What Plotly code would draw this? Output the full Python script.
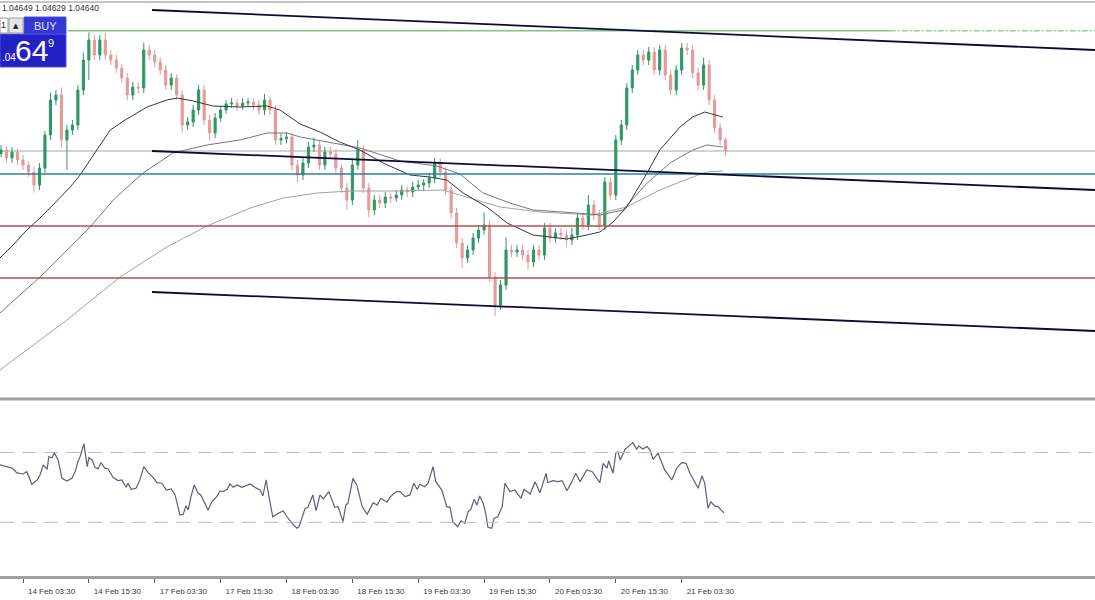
import plotly.graph_objects as go

# ---------------- data ----------------
# hourly bars, index 0..132 (tick every 12 bars)
closes = [
    1.04644, 1.04612, 1.04636, 1.04604, 1.04584, 1.04556, 1.04504, 1.04572, 1.04704, 1.04844,
    1.04864, 1.04684, 1.04724, 1.04744, 1.04884, 1.05004, 1.05084, 1.05024, 1.05084, 1.05024,
    1.05004, 1.04972, 1.04932, 1.04864, 1.04896, 1.04892, 1.05044, 1.05024, 1.04996, 1.04964,
    1.04904, 1.04932, 1.04864, 1.04744, 1.04756, 1.04804, 1.04884, 1.04764, 1.04712, 1.04772,
    1.04804, 1.04828, 1.04832, 1.04820, 1.04832, 1.04836, 1.04824, 1.04804, 1.04844, 1.04804,
    1.04684, 1.04690, 1.04696, 1.04584, 1.04544, 1.04592, 1.04656, 1.04664, 1.04584, 1.04636,
    1.04628, 1.04572, 1.04492, 1.04444, 1.04584, 1.04644, 1.04492, 1.04404, 1.04444, 1.04432,
    1.04456, 1.04452, 1.04464, 1.04484, 1.04476, 1.04496, 1.04504, 1.04512, 1.04532, 1.04592,
    1.04556, 1.04484, 1.04392, 1.04272, 1.04212, 1.04244, 1.04292, 1.04324, 1.04344, 1.04136,
    1.04024, 1.04104, 1.04244, 1.04236, 1.04244, 1.04224, 1.04196, 1.04244, 1.04224, 1.04332,
    1.04292, 1.04312, 1.04304, 1.04284, 1.04304, 1.04372, 1.04344, 1.04424, 1.04384, 1.04344,
    1.04516, 1.04464, 1.04684, 1.04744, 1.04892, 1.04964, 1.05024, 1.05004, 1.05036, 1.04964,
    1.05044, 1.04944, 1.04884, 1.04964, 1.05052, 1.05044, 1.04952, 1.04904, 1.04984, 1.04844,
    1.04732, 1.04684, 1.04640,
]
first_open = 1.04630
upper_wick_pips = [
    2, 1.5, 2, 1.5, 2, 1.5, 2, 2, 1.5, 3,
    2, 3, 2, 2, 2, 3, 3, 2, 2, 3,
    2, 2, 1.5, 2, 2, 2, 3, 2, 2, 2,
    2, 2, 1.5, 2, 2, 2, 2, 2, 2, 2,
    1.5, 1.5, 2, 1.5, 2, 1.5, 1.5, 2, 2.5, 1.5,
    2, 2, 2, 1.5, 2, 2, 2, 3, 2, 2,
    2, 2, 1.5, 2, 2, 4, 2, 2, 2, 2,
    2, 1.5, 2, 2, 1.5, 2, 2, 1.5, 2, 2,
    2, 2, 2, 2, 2, 2, 2, 2, 5, 2,
    2, 2, 5, 2, 2, 2, 2, 2, 2, 2,
    2, 2, 2, 2, 3, 2, 2, 4, 2, 2,
    2, 2, 2, 2, 2, 2, 2, 2, 2, 2,
    2, 2, 2, 2, 2, 2, 2, 2, 3, 2,
    2, 2, 1,
]
lower_wick_pips = [
    1.5, 2, 2, 2, 2, 2, 3, 2, 2, 2,
    2, 3, 12, 2, 2, 2, 8, 2, 2, 2,
    2, 2, 2, 2, 2, 2, 2, 2, 2, 2,
    2, 2, 2, 3, 2, 2, 2, 2, 3, 2,
    1.5, 1.5, 1.5, 2, 1.5, 1.5, 2, 2, 2, 2,
    2, 2, 2, 2, 3, 2, 2, 2, 2, 2,
    2, 2, 2, 4, 2, 2, 2, 3, 2, 2,
    2, 2, 1.5, 2, 2, 2, 1.5, 2, 2, 2,
    2, 2, 2, 2, 4, 2, 2, 2, 2, 2,
    4.5, 2, 2, 2, 2, 2, 3, 2, 2, 2,
    2, 2, 2, 3, 2, 2, 2, 2, 2, 2,
    2, 2, 2, 2, 2, 2, 2, 2, 2, 2,
    2, 2, 2, 2, 2, 2, 2, 2, 2, 2,
    2, 2, 2,
]

ma_fast_x = [-0.2, 2.2, 4.7, 7.1, 9.8, 12.6, 14.4, 16.2, 18.0, 19.9, 22.6, 26.6, 30.2, 32.1,
             35.0, 38.6, 43.5, 48.5, 50.8, 54.5, 58.1, 61.7, 65.4, 69.6, 74.5, 78.1, 81.2,
             84.2, 88.5, 92.2, 96.9, 103.1, 106.7, 109.1, 111.5, 114.0, 117.7, 120.0, 123.7,
             126.0, 128.2, 131.5]
ma_fast = [1.04212, 1.04264, 1.04324, 1.04372, 1.04432, 1.04496, 1.04544, 1.04604, 1.04664,
           1.04724, 1.04764, 1.04816, 1.04844, 1.04852, 1.04840, 1.04820, 1.04816, 1.04820,
           1.04804, 1.04748, 1.04716, 1.04676, 1.04644, 1.04592, 1.04544, 1.04536, 1.04524,
           1.04472, 1.04416, 1.04352, 1.04304, 1.04288, 1.04304, 1.04316, 1.04356, 1.04416,
           1.04552, 1.04644, 1.04736, 1.04776, 1.04796, 1.04776]
ma_mid_x = [-0.2, 3.5, 7.1, 11.7, 16.2, 20.8, 25.9, 31.3, 37.5, 43.5, 48.5, 52.1, 54.5, 60.5,
            65.4, 72.7, 79.4, 83.6, 87.8, 92.7, 96.9, 104.9, 109.1, 113.3, 117.7, 121.9,
            126.0, 128.6, 131.5]
ma_mid = [1.03992, 1.04064, 1.04136, 1.04236, 1.04336, 1.04452, 1.04552, 1.04632, 1.04664,
          1.04684, 1.04712, 1.04712, 1.04696, 1.04672, 1.04652, 1.04600, 1.04580, 1.04548,
          1.04472, 1.04432, 1.04404, 1.04392, 1.04384, 1.04404, 1.04512, 1.04592, 1.04644,
          1.04664, 1.04656]
ma_slow_x = [-0.2, 12.0, 21.7, 30.2, 37.5, 45.4, 51.4, 57.6, 63.6, 72.7, 80.5, 84.9, 90.9,
             98.2, 107.8, 114.0, 120.0, 126.0, 128.6, 131.5]
ma_slow = [1.03764, 1.03964, 1.04136, 1.04256, 1.04340, 1.04412, 1.04452, 1.04472, 1.04480,
           1.04480, 1.04484, 1.04456, 1.04416, 1.04396, 1.04384, 1.04416, 1.04484, 1.04536,
           1.04556, 1.04560]

rsi_x = [-0.2, 1.1, 2.0, 2.9, 4.0, 4.7, 5.6, 6.6, 7.1, 7.7,
         8.4, 8.7, 9.3, 9.7, 10.4, 11.1, 12.0, 12.9, 13.5, 14.0,
         14.4, 15.1, 15.7, 16.0, 16.6, 17.1, 17.7, 18.2, 18.9, 19.5,
         20.4, 21.3, 22.0, 22.8, 23.1, 23.7, 24.6, 25.3, 26.0, 26.8,
         27.7, 28.4, 29.3, 30.1, 31.0, 31.7, 32.6, 33.2, 33.7, 34.1,
         34.6, 35.2, 35.9, 36.4, 37.7, 38.4, 39.3, 39.9, 40.4, 41.2,
         41.7, 42.3, 43.0, 43.9, 44.8, 45.4, 46.3, 47.2, 47.7, 48.3,
         48.6, 49.5, 50.5, 51.4, 52.1, 53.0, 53.9, 54.3, 55.4, 55.9,
         56.8, 57.4, 58.1, 58.7, 59.7, 60.8, 61.4, 62.3, 62.8, 63.2,
         64.1, 64.8, 65.8, 66.7, 67.8, 68.5, 69.2, 70.3, 70.9, 71.4,
         72.1,
         72.7, 73.6, 74.5, 75.2, 75.8, 76.3, 77.2, 77.8, 78.7, 79.2,
         80.3, 81.2, 81.8, 82.3, 83.2, 83.8, 84.5, 85.1, 85.6, 86.2,
         86.7, 87.2, 87.8, 88.3, 88.7, 89.4, 89.8, 90.5, 91.3, 91.8,
         92.7, 93.6, 94.7, 95.3, 96.4, 97.3, 98.2, 99.3, 99.6, 100.5,
         101.5, 102.2, 103.1, 104.0, 104.7, 105.5, 106.7, 107.7, 109.1, 109.7,
         110.4, 110.7, 111.5, 112.0, 112.4, 112.8, 113.7, 114.4, 115.1, 115.8,
         116.2, 116.9, 117.7, 118.2, 118.8, 119.7, 120.9, 122.2, 123.1, 124.0,
         124.8, 125.5, 127.0, 127.7, 128.2, 128.8, 129.3, 130.0, 130.6, 131.3,
         131.7]
rsi_values = [62.9, 61.9, 61.1, 58.3, 57.7, 59.0, 51.8, 54.3, 57.1, 62.9,
              60.4, 67.6, 67.0, 69.9, 65.7, 55.2, 53.7, 55.2, 59.0, 64.8,
              67.6, 74.9, 61.9, 67.0, 65.7, 61.5, 60.6, 64.2, 61.0, 60.6,
              55.8, 53.9, 54.3, 50.1, 52.4, 48.9, 49.5, 54.3, 61.9, 58.5,
              55.8, 52.7, 52.4, 48.5, 49.1, 45.7, 34.2, 34.6, 39.5, 37.1,
              44.7, 51.4, 46.6, 45.7, 37.1, 41.8, 44.7, 48.0, 47.6, 48.9,
              52.0, 50.1, 51.4, 50.1, 51.4, 52.0, 49.9, 48.5, 45.1, 54.3,
              48.5, 33.2, 35.2, 36.5, 33.2, 29.5, 26.6, 27.5, 38.0, 38.6,
              45.7, 36.7, 45.7, 43.4, 47.6, 38.6, 39.0, 30.4, 39.9, 40.9,
              55.2, 51.4, 39.0, 34.6, 41.3, 39.9, 43.8, 41.5, 44.4, 46.1,
              47.6,
              47.6, 44.7, 45.7, 52.4, 48.9, 51.8, 50.4, 52.4, 61.9, 53.3,
              48.5, 39.0, 38.6, 30.4, 27.5, 30.9, 29.5, 36.1, 37.5, 43.2,
              39.9, 45.1, 41.3, 35.2, 27.2, 26.6, 32.3, 33.2, 39.0, 52.4,
              47.6, 48.5, 43.8, 48.9, 46.2, 53.3, 47.0, 58.1, 52.7, 53.9,
              53.3, 53.9, 48.1, 53.3, 58.1, 53.3, 60.0, 59.0, 52.7, 63.8,
              61.0, 65.3, 58.1, 69.6, 70.5, 65.7, 71.9, 73.8, 75.6, 71.9,
              73.8, 72.0, 73.4, 71.5, 66.1, 69.6, 60.0, 54.3, 61.0, 64.2,
              63.8, 58.1, 49.5, 56.6, 52.4, 38.0, 41.8, 39.4, 39.0, 36.7,
              35.5]
rsi_levels = [70, 30]

tick_bars = [4, 16, 28, 40, 52, 64, 76, 88, 100, 112, 124]
tick_labels = ["14 Feb 03:30", "14 Feb 15:30", "17 Feb 03:30", "17 Feb 15:30",
               "18 Feb 03:30", "18 Feb 15:30", "19 Feb 03:30", "19 Feb 15:30",
               "20 Feb 03:30", "20 Feb 15:30", "21 Feb 03:30"]

# trendlines: [x0, x1], [y0, y1]
trend_x = [27.5, 199.3]
trend_top = [1.05204, 1.05044]
trend_mid = [1.04640, 1.04484]
trend_bot = [1.04076, 1.03920]

# horizontal levels
green_level = 1.05121
green_start, green_dash_start = 12.2, 161.9
bid_level = 1.04640
blue_level = 1.04548
red_levels = [1.04340, 1.04132]

header_text = "1.04649 1.04629 1.04640"

# ---------------- derived ----------------
opens = [first_open] + closes[:-1]
highs = [max(o, c) + w * 0.0001 for o, c, w in zip(opens, closes, upper_wick_pips)]
lows = [min(o, c) - w * 0.0001 for o, c, w in zip(opens, closes, lower_wick_pips)]
bars = list(range(len(closes)))

W, H = 1095, 600
PLOT_H = 576  # plot area height (margin bottom 24)


def px(xp):
    return xp / W


def py(yp):
    return (PLOT_H - yp) / PLOT_H


fig = go.Figure()

fig.add_trace(go.Candlestick(
    x=bars, open=opens, high=highs, low=lows, close=closes,
    increasing=dict(line=dict(color="#2f9763", width=1), fillcolor="#2f9763"),
    decreasing=dict(line=dict(color="#e39a9a", width=1), fillcolor="#e39a9a"),
    whiskerwidth=0, xaxis="x", yaxis="y", showlegend=False, hoverinfo="skip",
))

for xs, ys, col in [(ma_slow_x, ma_slow, "#a2a2a2"),
                    (ma_mid_x, ma_mid, "#777777"),
                    (ma_fast_x, ma_fast, "#383838")]:
    fig.add_trace(go.Scatter(x=xs, y=ys, mode="lines", line=dict(color=col, width=1),
                             xaxis="x", yaxis="y", showlegend=False, hoverinfo="skip"))

fig.add_trace(go.Scatter(x=rsi_x, y=rsi_values, mode="lines",
                         line=dict(color="#5d5d80", width=1.2),
                         xaxis="x", yaxis="y2", showlegend=False, hoverinfo="skip"))

shapes = []
# horizontal levels (full width)
shapes.append(dict(type="line", xref="paper", yref="y", x0=0, x1=1, y0=bid_level, y1=bid_level,
                   line=dict(color="#a8a8a8", width=1), layer="below"))
shapes.append(dict(type="line", xref="paper", yref="y", x0=0, x1=1, y0=blue_level, y1=blue_level,
                   line=dict(color="#2c7fa3", width=1.5)))
for lv in red_levels:
    shapes.append(dict(type="line", xref="paper", yref="y", x0=0, x1=1, y0=lv, y1=lv,
                       line=dict(color="#b3504a", width=1.5)))
shapes.append(dict(type="line", xref="x", yref="y", x0=green_start, x1=green_dash_start,
                   y0=green_level, y1=green_level, line=dict(color="#82c482", width=1.5)))
shapes.append(dict(type="line", xref="x", yref="y", x0=green_dash_start, x1=trend_x[1],
                   y0=green_level, y1=green_level,
                   line=dict(color="#8fcf8f", width=1.5, dash="6px,2px,2px,2px")))
# trendlines
for ys in (trend_top, trend_mid, trend_bot):
    shapes.append(dict(type="line", xref="x", yref="y", x0=trend_x[0], x1=trend_x[1],
                       y0=ys[0], y1=ys[1], line=dict(color="#0b0b3a", width=1.8)))
# RSI levels
for lv in rsi_levels:
    shapes.append(dict(type="line", xref="paper", yref="y2", x0=0, x1=1, y0=lv, y1=lv,
                       line=dict(color="#b9b9cc", width=1, dash="14px,8px")))
# frame / separators
shapes.append(dict(type="line", xref="paper", yref="paper", x0=0, x1=1, y0=py(2), y1=py(2),
                   line=dict(color="#8a8a8a", width=1)))
shapes.append(dict(type="line", xref="paper", yref="paper", x0=0, x1=1, y0=py(399), y1=py(399),
                   line=dict(color="#a0a0a0", width=3)))
# BUY widget
shapes.append(dict(type="rect", xref="paper", yref="paper", x0=px(0), x1=px(66), y0=py(67), y1=py(34),
                   fillcolor="#2222c4", line=dict(color="#5050e0", width=1)))
shapes.append(dict(type="rect", xref="paper", yref="paper", x0=px(24), x1=px(66), y0=py(34), y1=py(17),
                   fillcolor="#3636d2", line=dict(color="#5050e0", width=1)))
shapes.append(dict(type="rect", xref="paper", yref="paper", x0=px(0), x1=px(8), y0=py(33), y1=py(18),
                   fillcolor="#ffffff", line=dict(color="#9a9a9a", width=1)))
shapes.append(dict(type="rect", xref="paper", yref="paper", x0=px(9), x1=px(23), y0=py(33), y1=py(18),
                   fillcolor="#e6e6e6", line=dict(color="#a0a0a0", width=1)))

annotations = [
    dict(xref="paper", yref="paper", x=0, y=py(8), text=header_text, showarrow=False,
         xanchor="left", yanchor="middle", font=dict(family="Liberation Sans", size=8.5, color="#333333")),
    dict(xref="paper", yref="paper", x=px(45), y=py(26), text="BUY", showarrow=False,
         xanchor="center", yanchor="middle", font=dict(family="Liberation Sans", size=11, color="#dfe3ff")),
    dict(xref="paper", yref="paper", x=px(16), y=py(26), text="▲", showarrow=False,
         xanchor="center", yanchor="middle", font=dict(family="DejaVu Sans", size=7, color="#222222")),
    dict(xref="paper", yref="paper", x=px(3), y=py(25), text="1", showarrow=False,
         xanchor="center", yanchor="middle", font=dict(family="Liberation Sans", size=9, color="#222222")),
    dict(xref="paper", yref="paper", x=px(0), y=py(57), text=".04", showarrow=False,
         xanchor="left", yanchor="middle", font=dict(family="Liberation Sans", size=10, color="#ffffff")),
    dict(xref="paper", yref="paper", x=px(31), y=py(51), text="64", showarrow=False,
         xanchor="center", yanchor="middle", font=dict(family="Liberation Sans", size=30, color="#ffffff")),
    dict(xref="paper", yref="paper", x=px(51), y=py(43), text="9", showarrow=False,
         xanchor="center", yanchor="middle", font=dict(family="Liberation Sans", size=11, color="#ffffff")),
]

fig.update_layout(
    width=W, height=H,
    margin=dict(l=0, r=0, t=0, b=H - PLOT_H),
    paper_bgcolor="#ffffff", plot_bgcolor="#ffffff",
    showlegend=False, boxgap=0.45,
    shapes=shapes, annotations=annotations,
    xaxis=dict(range=[-0.19, 199.3], anchor="y2", showgrid=False, zeroline=False,
               tickmode="array", tickvals=tick_bars, ticktext=tick_labels,
               ticks="outside", ticklen=4, tickcolor="#606060", tickwidth=1,
               ticklabelposition="outside right", ticklabelstandoff=5, ticklabelshift=3,
               tickfont=dict(family="Liberation Sans", size=8, color="#3a3a3a"),
               showline=True, linecolor="#a0a0a0", linewidth=3,
               rangeslider=dict(visible=False), fixedrange=True),
    yaxis=dict(domain=[py(398), py(3)], range=[1.03652, 1.05232], showgrid=False,
               zeroline=False, showticklabels=False, ticks="", fixedrange=True),
    yaxis2=dict(domain=[0, py(401)], range=[-0.74, 99.5], showgrid=False, zeroline=False,
                showticklabels=False, ticks="", fixedrange=True),
)

fig.write_html("out.html", config={"displayModeBar": False},
               post_script="document.body.style.margin='0';document.body.style.padding='0';")
